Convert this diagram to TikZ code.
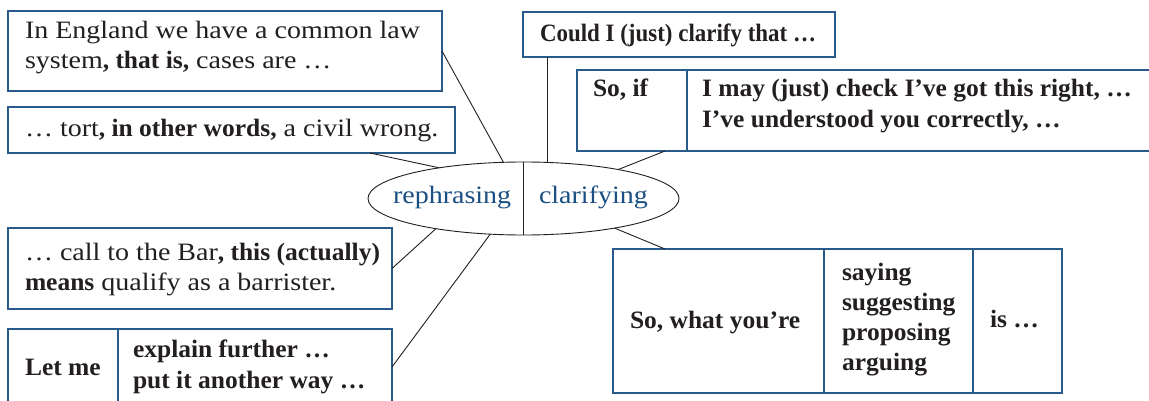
\documentclass[tikz,border=0pt]{standalone}
\usepackage{fontspec}
\setmainfont{Liberation Serif}[FakeStretch=1.12, BoldFeatures={FakeStretch=1.02}]
\usetikzlibrary{shapes.geometric}
\definecolor{boxblue}{HTML}{2A5A8A}
\definecolor{txt}{HTML}{231F20}
\definecolor{ellblue}{HTML}{1B4F82}
\tikzset{
  box/.style={draw=boxblue, line width=1.3pt, rectangle, inner sep=0pt, outer sep=0pt},
  divider/.style={draw=boxblue, line width=1.1pt},
  conn/.style={draw=txt, line width=0.9pt},
  lbl/.style={anchor=base west, inner sep=0pt, outer sep=0pt, text=txt, font=\fontsize{25}{30}\selectfont},
  elbl/.style={anchor=base west, inner sep=0pt, outer sep=0pt, text=ellblue, font=\fontsize{25}{30}\selectfont},
  hub/.style={draw=txt, line width=0.9pt, ellipse, inner sep=0pt, outer sep=0pt, minimum width=311pt, minimum height=73pt}
}
\begin{document}
\begin{tikzpicture}[x=1pt,y=-1pt]
\clip (0,0) rectangle (1149,401);
\fill[white] (0,0) rectangle (1149,401);
% boxes
\node[box, minimum width=434pt, minimum height=80pt] (b1) at (225,51) {};
\node[box, minimum width=447pt, minimum height=46pt] (b2) at (231.5,130) {};
\node[box, minimum width=384pt, minimum height=81pt] (b3) at (200,268.5) {};
\node[box, minimum width=384pt, minimum height=76pt] (b4) at (200,367) {};
\node[box, minimum width=312pt, minimum height=45pt] (cl) at (679,34.5) {};
\node[box, minimum width=578pt, minimum height=81pt] (soif) at (866,110.5) {};
\node[box, minimum width=449pt, minimum height=144pt] (b5) at (837.5,321) {};
\node[hub] (ell) at (523.5,198.5) {};
% dividers
\draw[divider] ([xshift=110pt]b4.north west) -- ([xshift=110pt]b4.south west);
\draw[divider] ([xshift=110pt]soif.north west) -- ([xshift=110pt]soif.south west);
\draw[divider] ([xshift=211pt]b5.north west) -- ([xshift=211pt]b5.south west);
\draw[divider] ([xshift=360pt]b5.north west) -- ([xshift=360pt]b5.south west);
\draw[conn] (ell.north) -- (ell.south);
% texts
\node[lbl] (t1a) at (25,39) {In England we have a common law};
\node[lbl] (t1b) at (25,69) {system\textbf{, that is,} cases are …};
\node[lbl] (t2) at (25,137) {… tort\textbf{, in other words,} a civil wrong.};
\node[lbl] (t3a) at (25,260) {… call to the Bar\textbf{, this (actually)}};
\node[lbl] (t3b) at (25,290) {\textbf{means} qualify as a barrister.};
\node[lbl] (t4a) at (25,375) {\textbf{Let me}};
\node[lbl] (t4b) at (133,357) {\textbf{explain further …}};
\node[lbl] (t4c) at (133,388) {\textbf{put it another way …}};
\node[lbl] (tcl) at (540,42) {\scalebox{0.9}[1]{\textbf{Could I (just) clarify that …}}};
\node[lbl] (ts1) at (593,97) {\textbf{So, if}};
\node[lbl] (ts2) at (702,97) {\textbf{I may (just) check I’ve got this right, …}};
\node[lbl] (ts3) at (702,128) {\textbf{I’ve understood you correctly, …}};
\node[lbl] (t5a) at (630,328) {\textbf{So, what you’re}};
\node[lbl] (t5b) at (842,280) {\textbf{saying}};
\node[lbl] (t5c) at (842,310) {\textbf{suggesting}};
\node[lbl] (t5d) at (842,340) {\textbf{proposing}};
\node[lbl] (t5e) at (842,370) {\textbf{arguing}};
\node[lbl] (t5f) at (990,327) {\textbf{is …}};
\node[elbl] (er) at (393,204) {rephrasing};
\node[elbl] (ec) at (539,204) {clarifying};
% connectors
\draw[conn] (b1.east) -- (ell.119.3);
\draw[conn] ([xshift=-85pt]b2.south east) -- (ell.160.8);
\draw[conn] (b3.east) -- (ell.199.2);
\draw[conn] (b4.east) -- (ell.227.4);
\draw[conn] (ell.56.9) -- (ell.56.9 |- cl.south);
\draw[conn] (ell.17.9) -- ([xshift=88pt]soif.south west);
\draw[conn] (ell.-18.1) -- ([xshift=52pt]b5.north west);
\end{tikzpicture}
\end{document}
